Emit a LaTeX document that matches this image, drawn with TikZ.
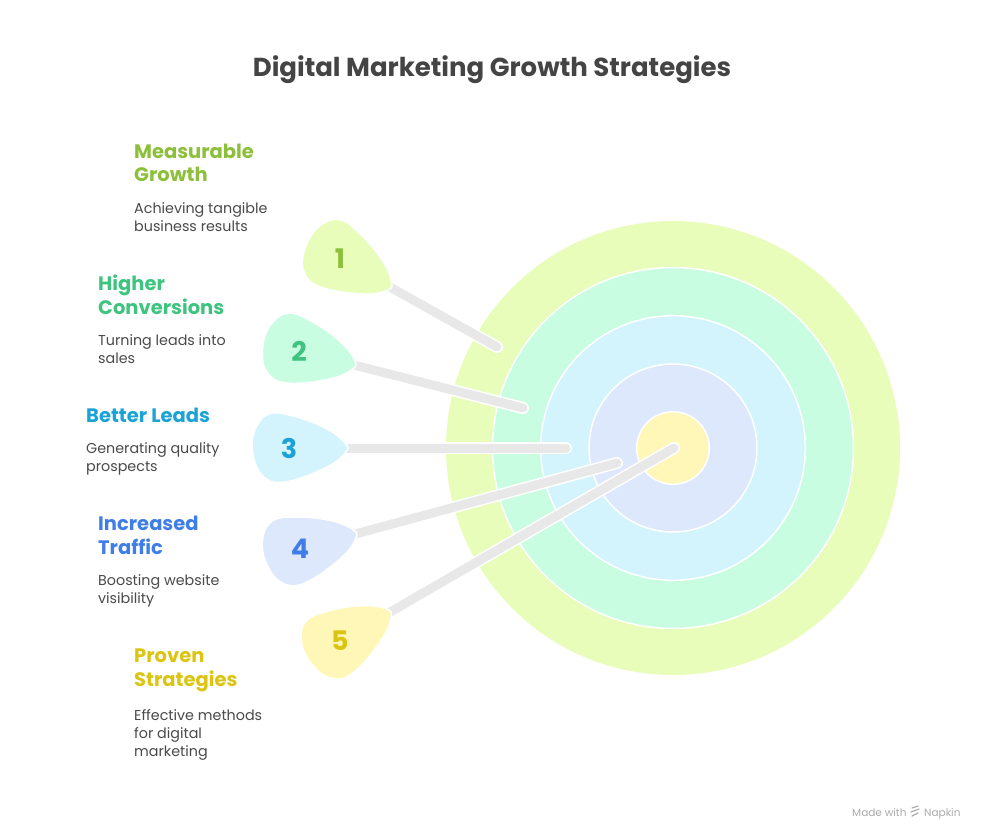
\documentclass[tikz,border=0pt]{standalone}
\usepackage{fontspec}
\setmainfont{Poppins}
\definecolor{ringA}{HTML}{E8FDB9}
\definecolor{ringB}{HTML}{C9FDE2}
\definecolor{ringC}{HTML}{D3F4FD}
\definecolor{ringD}{HTML}{DDE8FD}
\definecolor{ringE}{HTML}{FFF7B8}
\definecolor{colA}{HTML}{8DC03A}
\definecolor{colB}{HTML}{3FC47F}
\definecolor{colC}{HTML}{1BA3D6}
\definecolor{colD}{HTML}{3F7EE8}
\definecolor{colE}{HTML}{DCC512}
\definecolor{shaftgray}{HTML}{E8E8E8}
\definecolor{bodygray}{HTML}{4A4A4A}
\definecolor{titlegray}{HTML}{444444}
\definecolor{footgray}{HTML}{ABABAB}
\pgfdeclarelayer{bg}
\pgfsetlayers{bg,main}
\begin{document}
\begin{tikzpicture}[x=1pt,y=-1pt,
  ring/.style={draw=white, line width=1.5pt},
  shaftout/.style={line width=12pt, draw=white, line cap=round},
  shaftin/.style={line width=9pt, draw=shaftgray, line cap=round},
  headshape/.style={draw=white, line width=1.5pt},
  num/.style={inner sep=0, font=\fontsize{27}{27}\selectfont\bfseries},
  ttl/.style={anchor=base west, align=left, inner sep=0, font=\fontsize{19.5}{24}\selectfont\bfseries},
  dsc/.style={anchor=base west, align=left, inner sep=0, font=\fontsize{14.3}{18}\selectfont, text=bodygray},
]
\useasboundingbox (0,0) rectangle (985,840);

\node[font=\fontsize{26}{30}\selectfont\bfseries, text=titlegray, anchor=base] (title) at (492,77) {Digital Marketing Growth Strategies};

% target
\coordinate (ctr) at (673,448);
\begin{pgfonlayer}{bg}
\fill[white] (0,0) rectangle (985,840);
\fill[ringA] (ctr) circle[radius=227pt];
\filldraw[ring, fill=ringB] (ctr) circle[radius=180.5pt];
\filldraw[ring, fill=ringC] (ctr) circle[radius=132.3pt];
\filldraw[ring, fill=ringD] (ctr) circle[radius=84pt];
\filldraw[ring, fill=ringE] (ctr) circle[radius=36.3pt];
\end{pgfonlayer}

% head shapes
\def\headpath{plot[smooth cycle, tension=0.7] coordinates {(56,-5) (36,-20) (4,-32) (-20,-34) (-34,-18) (-36,6) (-26,28) (-4,34) (36,20) (56,5)}}
\foreach \px/\py/\ang/\col in {340/259/29/ringA, 299/351/14/ringB, 289/448/0/ringC, 300/549/-15/ringD, 340/641/-30/ringE}{
  \begin{scope}[shift={(\px,\py)}, rotate=-\ang]
    \filldraw[headshape, fill=\col] \headpath;
  \end{scope}
}

\node[num, text=colA] (h1) at (340,259) {1};
\node[num, text=colB] (h2) at (299,351) {2};
\node[num, text=colC] (h3) at (289,448) {3};
\node[num, text=colD] (h4) at (300,549) {4};
\node[num, text=colE] (h5) at (340,641) {5};

\coordinate (t1) at (497,347);
\coordinate (t2) at (523,408);
\coordinate (t3) at (566,448);
\coordinate (t4) at (617,463);
\coordinate (t5) at (674,448);

\begin{pgfonlayer}{bg}
\foreach \i in {1,...,5}{
  \draw[shaftout] (h\i.center) -- (t\i);
  \draw[shaftin] (h\i.center) -- (t\i);
}
\end{pgfonlayer}

% labels (base = last line)
\node[ttl, text=colA] (l1) at (134,182) {Measurable\\Growth};
\node[dsc] (d1) at (134,231) {Achieving tangible\\business results};
\node[ttl, text=colB] (l2) at (98,314) {Higher\\Conversions};
\node[dsc] (d2) at (98,363) {Turning leads into\\sales};
\node[ttl, text=colC] (l3) at (86,422) {Better Leads};
\node[dsc] (d3) at (86,471) {Generating quality\\prospects};
\node[ttl, text=colD] (l4) at (98,554) {Increased\\Traffic};
\node[dsc] (d4) at (98,603) {Boosting website\\visibility};
\node[ttl, text=colE] (l5) at (134,686) {Proven\\Strategies};
\node[dsc] (d5) at (134,756) {Effective methods\\for digital\\marketing};

% footer
\node[anchor=base west, inner sep=0, font=\fontsize{10.5}{12}\selectfont, text=footgray] (made) at (852,816) {Made with};
\begin{scope}[footgray, line width=1.2pt, line cap=round]
  \draw (912,808) -- (918,806);
  \draw (911,812) -- (919,809);
  \draw (912,816) -- (918,813);
\end{scope}
\node[anchor=base west, inner sep=0, font=\fontsize{10.5}{12}\selectfont, text=footgray] (napkin) at (924,816) {Napkin};
\end{tikzpicture}
\end{document}
